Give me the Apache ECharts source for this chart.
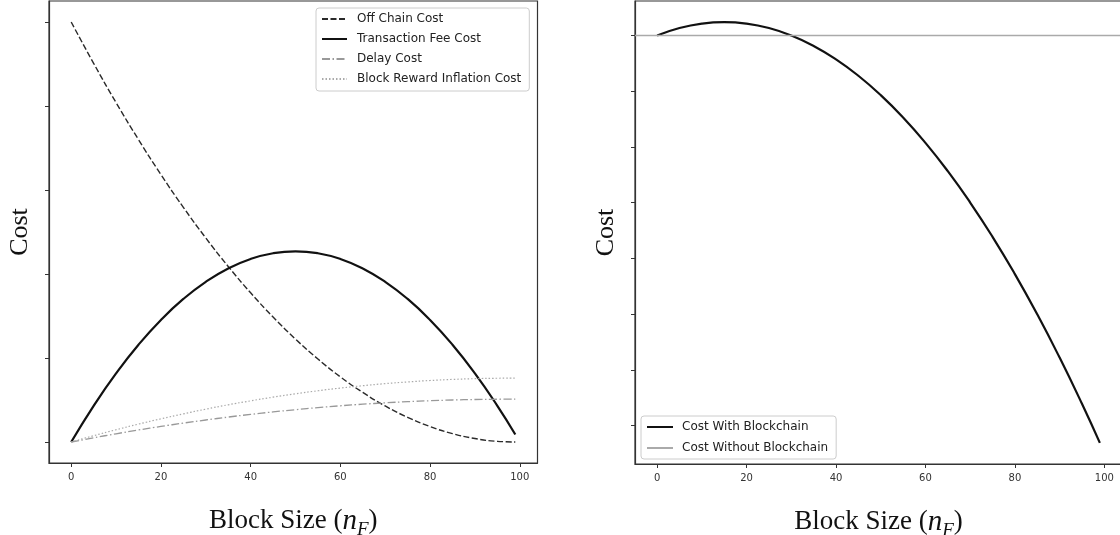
<!DOCTYPE html>
<html>
<head>
<meta charset="utf-8">
<script src="https://cdn.jsdelivr.net/npm/echarts@6/dist/echarts.min.js"></script>
<style>
html,body{margin:0;padding:0;background:#fff;}
#chart{width:1120px;height:535px;}
</style>
</head>
<body>
<div id="chart"></div>
<script>
// ---- data ----
const blockSize = [0,5,10,15,20,25,30,35,40,45,50,55,60,65,70,75,80,85,90,95,99];
const offChainCost = [5,4.508,4.041,3.600,3.184,2.794,2.429,2.090,1.776,1.488,1.225,0.988,0.776,0.590,0.429,0.294,0.184,0.100,0.041,0.008,0];
const transactionFeeCost = [0,0.431,0.817,1.158,1.453,1.703,1.907,2.066,2.179,2.247,2.27,2.247,2.179,2.066,1.907,1.703,1.453,1.158,0.817,0.431,0.090];
const delayCost = [0,0.050,0.098,0.143,0.185,0.225,0.262,0.297,0.329,0.358,0.385,0.409,0.431,0.450,0.466,0.480,0.491,0.500,0.506,0.509,0.510];
const inflationCost = [0,0.075,0.146,0.213,0.276,0.335,0.391,0.443,0.490,0.534,0.574,0.610,0.642,0.670,0.695,0.715,0.732,0.745,0.754,0.759,0.760];
const costWithBlockchain = [0,0.134,0.214,0.241,0.214,0.134,0,-0.187,-0.428,-0.722,-1.070,-1.471,-1.926,-2.434,-2.996,-3.611,-4.280,-5.002,-5.778,-6.607,-7.309];
const costWithoutBlockchain = 0;
const xTicks = [0,20,40,60,80,100];
const leftYTicks = [0,1,2,3,4,5];
const rightYTicks = [0,-1,-2,-3,-4,-5,-6,-7];
const xMin = -4.95, xMax = 103.95;
const leftYMin = -0.25, leftYMax = 5.25;
const rightYMin = -7.687, rightYMax = 0.619;

const pairs = (ys) => blockSize.map((x, i) => [x, ys[i]]);

const serif = 'Liberation Serif';
const sans = 'DejaVu Sans';

function xAxisCfg(gridIndex) {
  return {
    type: 'value', gridIndex, min: xMin, max: xMax,
    name: 'Block Size ({m|n}{s|F})',
    nameLocation: 'middle', nameGap: 40,
    nameTextStyle: {
      fontFamily: serif, fontSize: 27, color: '#111',
      rich: {
        m: {fontFamily: serif, fontStyle: 'italic', fontSize: 29, color: '#111'},
        s: {fontFamily: serif, fontStyle: 'italic', fontSize: 19, color: '#111', verticalAlign: 'top', padding: [17,0,0,0]}
      }
    },
    axisLine: {show: true, onZero: false, lineStyle: {color: '#333', width: 1.2}},
    axisTick: {show: true, length: 4, customValues: xTicks, lineStyle: {color: '#333'}},
    axisLabel: {show: true, customValues: xTicks, margin: 9, fontFamily: sans, fontSize: 10, color: '#333'},
    splitLine: {show: false}
  };
}
function yAxisCfg(gridIndex, min, max, ticks) {
  return {
    type: 'value', gridIndex, min, max,
    name: 'Cost', nameLocation: 'middle', nameGap: 16, nameRotate: 90,
    nameTextStyle: {fontFamily: serif, fontSize: 26, color: '#111'},
    axisLine: {show: true, onZero: false, lineStyle: {color: '#333', width: 1.2}},
    axisTick: {show: true, length: 4, customValues: ticks, lineStyle: {color: '#333'}},
    axisLabel: {show: false},
    splitLine: {show: false}
  };
}

const chart = echarts.init(document.getElementById('chart'), null, {renderer: 'canvas'});
chart.setOption({
  animation: false,
  backgroundColor: '#fff',
  grid: [
    {left: 49, top: 1, width: 488.5, height: 462, show: true, borderColor: '#333', borderWidth: 1.2, containLabel: false, outerBoundsMode: 'none'},
    {left: 635, top: 1, width: 487, height: 463, show: true, borderColor: '#333', borderWidth: 1.2, containLabel: false, outerBoundsMode: 'none'}
  ],
  xAxis: [xAxisCfg(0), xAxisCfg(1)],
  yAxis: [yAxisCfg(0, leftYMin, leftYMax, leftYTicks), yAxisCfg(1, rightYMin, rightYMax, rightYTicks)],
  legend: [
    {
      data: ['Off Chain Cost','Transaction Fee Cost','Delay Cost','Block Reward Inflation Cost'],
      orient: 'vertical', left: 316, top: 8, itemWidth: 25, itemHeight: 12, itemGap: 6,
      padding: [4, 8, 5, 5],
      backgroundColor: 'rgba(255,255,255,0.85)', borderColor: '#ccc', borderWidth: 1, borderRadius: 3,
      itemStyle: {opacity: 0},
      textStyle: {fontFamily: sans, fontSize: 12, color: '#222', lineHeight: 14, padding: [0,0,0,5]}
    },
    {
      data: ['Cost With Blockchain','Cost Without Blockchain'],
      orient: 'vertical', left: 641, top: 416, itemWidth: 26, itemHeight: 12, itemGap: 7,
      padding: [4, 8, 4, 5],
      backgroundColor: 'rgba(255,255,255,0.85)', borderColor: '#ccc', borderWidth: 1, borderRadius: 3,
      itemStyle: {opacity: 0},
      textStyle: {fontFamily: sans, fontSize: 12, color: '#222', lineHeight: 14, padding: [0,0,0,4]}
    }
  ],
  series: [
    {name: 'Off Chain Cost', type: 'line', xAxisIndex: 0, yAxisIndex: 0, data: pairs(offChainCost),
     smooth: true, symbol: 'none', lineStyle: {color: '#2a2a2a', width: 1.4, type: [6, 2.5]}, itemStyle: {color: '#2a2a2a'}},
    {name: 'Transaction Fee Cost', type: 'line', xAxisIndex: 0, yAxisIndex: 0, data: pairs(transactionFeeCost),
     smooth: true, symbol: 'none', lineStyle: {color: '#111', width: 2.2}, itemStyle: {color: '#111'}},
    {name: 'Delay Cost', type: 'line', xAxisIndex: 0, yAxisIndex: 0, data: pairs(delayCost),
     smooth: true, symbol: 'none', lineStyle: {color: '#999', width: 1.3, type: [8, 2.5, 1.5, 2.5]}, itemStyle: {color: '#999'}},
    {name: 'Block Reward Inflation Cost', type: 'line', xAxisIndex: 0, yAxisIndex: 0, data: pairs(inflationCost),
     smooth: true, symbol: 'none', lineStyle: {color: '#aaa', width: 1.2, type: [1.5, 2]}, itemStyle: {color: '#aaa'}},
    {name: 'Cost With Blockchain', type: 'line', xAxisIndex: 1, yAxisIndex: 1, data: pairs(costWithBlockchain),
     smooth: true, symbol: 'none', lineStyle: {color: '#111', width: 2.2}, itemStyle: {color: '#111'}},
    {name: 'Cost Without Blockchain', type: 'line', xAxisIndex: 1, yAxisIndex: 1,
     data: [[xMin, costWithoutBlockchain], [xMax, costWithoutBlockchain]],
     symbol: 'none', lineStyle: {color: '#aaa', width: 1.3}, itemStyle: {color: '#aaa'}}
  ]
});
</script>
</body>
</html>
